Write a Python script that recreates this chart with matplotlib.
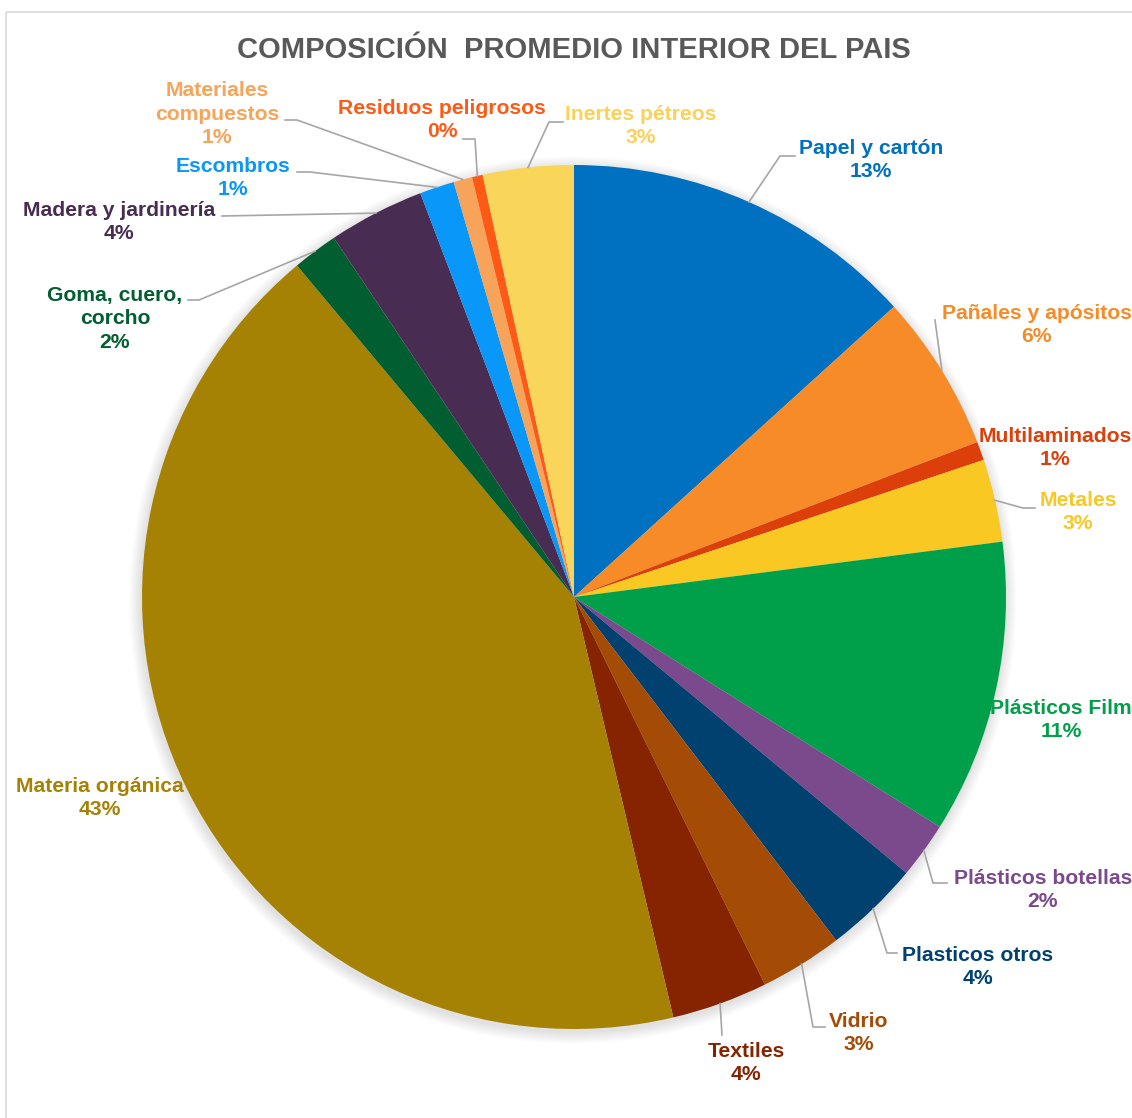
import numpy as np
import matplotlib.pyplot as plt
from matplotlib.patches import Circle, Rectangle

plt.rcParams['font.family'] = ['Liberation Sans', 'DejaVu Sans']

# datos (porcentaje)
categorias = ["Papel y cartón", "Pañales y apósitos", "Multilaminados", "Metales",
              "Plásticos Film", "Plásticos botellas", "Plasticos otros", "Vidrio",
              "Textiles", "Materia orgánica", "Goma, cuero,\ncorcho", "Madera y jardinería",
              "Escombros", "Materiales\ncompuestos", "Residuos peligrosos", "Inertes pétreos"]
valores = [13.3, 5.9, 0.7, 3.1, 11.0, 2.1, 3.6, 3.1, 3.6, 42.7, 1.7, 3.6, 1.3, 0.7, 0.4, 3.4]
colores = ["#0070C0", "#F68B28", "#DD3F0A", "#F9C823", "#00A04A", "#7B4A8C", "#00416F", "#A44B06",
           "#862300", "#A68204", "#005E30", "#482C52", "#0A97FA", "#F7A45A", "#FF5A15", "#F9D65A"]
colores_texto = colores[:]
colores_texto[15] = "#FAD25A"

# posiciones de etiquetas (pixeles) y codos de las líneas guía
pos_texto = [(871, 160), (1037, 325), (1055, 448), (1078, 512), (1061, 720), (1043, 890),
             (978, 967), (859, 1033), (746, 1063), (100, 798), (115, 319), (119, 222),
             (233, 178), (217, 114), (442, 120), (641, 126)]
lineas = {0: [(780, 156), (795, 156)],
          1: [(935, 320)],
          3: [(1023, 508), (1035, 508)],
          5: [(933, 883), (947, 883)],
          6: [(887, 953), (897, 953)],
          7: [(813, 1027), (825, 1027)],
          8: [(722, 1035)],
          10: [(199, 300), (188, 300)],
          11: [(222, 216)],
          12: [(310, 172), (297, 172)],
          13: [(297, 120), (285, 120)],
          14: [(475, 139), (463, 139)],
          15: [(549, 122), (563, 122)]}

W, H = 1132, 1118
cx, cy, R = 574, 597, 432

fig = plt.figure(figsize=(W / 100, H / 100), dpi=100)
ax = fig.add_axes([0, 0, 1, 1])

# sombra suave
for i in range(10):
    ax.add_patch(Circle((cx - 1, cy + 3), R + 1 + i * 1.2, color="black", alpha=0.012, linewidth=0))

wedges, _ = ax.pie(valores, colors=colores, startangle=-90, counterclock=True,
                   center=(cx, cy), radius=R, wedgeprops=dict(linewidth=0))

ax.set_xlim(0, W)
ax.set_ylim(H, 0)
ax.set_aspect('equal')
ax.axis('off')

# borde del área del gráfico
ax.add_patch(Rectangle((6, 12), W + 20, H + 20, fill=False, edgecolor="#D9D9D9", linewidth=1.2))

for i, w in enumerate(wedges):
    if i in lineas:
        ang = np.deg2rad((w.theta1 + w.theta2) / 2)
        x0 = cx + R * np.cos(ang)
        y0 = cy + R * np.sin(ang)
        pts = [(x0, y0)] + lineas[i]
        ax.plot([p[0] for p in pts], [p[1] for p in pts], color="#A6A6A6", linewidth=1.2)
    tx, ty = pos_texto[i]
    ax.text(tx, ty, f"{categorias[i]}\n{valores[i]:.0f}%", ha="center", va="center",
            multialignment="center", fontsize=15.2, fontweight="bold",
            color=colores_texto[i], linespacing=1.32)

ax.text(574, 50, "COMPOSICIÓN  PROMEDIO INTERIOR DEL PAIS", ha="center", va="center",
        fontsize=21, fontweight="bold", color="#595959")

fig.savefig("out.png", dpi=100)
